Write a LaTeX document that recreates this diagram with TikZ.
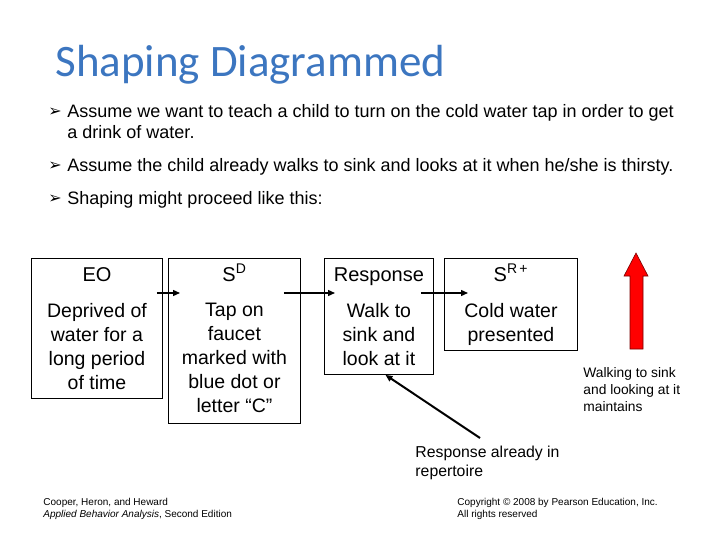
\documentclass[tikz,border=0pt]{standalone}
\usepackage{fontspec}
\setmainfont{Liberation Sans}
\newfontfamily\titlefont{Carlito}
\newfontfamily\symfont{DejaVu Sans}
\usetikzlibrary{arrows.meta,calc}
\definecolor{titleblue}{RGB}{60,118,192}
\definecolor{arrowred}{RGB}{255,0,0}
\definecolor{arrowedge}{RGB}{120,0,0}

\begin{document}
\begin{tikzpicture}[x=1pt,y=-1pt,line width=0.9pt,>={Triangle[length=7pt,width=6pt]},
  box/.style={draw,line width=0.9pt,anchor=north west,inner sep=0pt},
  hdr/.style={anchor=base,inner sep=0pt,font=\fontsize{20}{24}\selectfont},
  body/.style={anchor=north,inner sep=0pt,align=center,font=\fontsize{19.5}{24}\selectfont},
  bullet/.style={anchor=north west,inner sep=0pt,align=left,font=\fontsize{18}{21}\selectfont},
  tick/.style={anchor=base west,inner sep=0pt,font=\symfont\fontsize{16}{16}\selectfont},
  note/.style={anchor=north west,inner sep=0pt,align=left},
  link/.style={->,line width=1.4pt}]
\useasboundingbox (0,0) rectangle (720,540);
% 标题
\node[anchor=base west,inner sep=0pt,text=titleblue,font=\titlefont\fontsize{45}{48}\selectfont] (title) at (55,77) {Shaping Diagrammed};
% 要点
\node[tick] (m1) at (48,117) {➢};
\node[bullet] (b1) at (67,104) {Assume we want to teach a child to turn on the cold water tap in order to get\\a drink of water.};
\node[tick] (m2) at (48,171) {➢};
\node[bullet] (b2) at (67,158) {Assume the child already walks to sink and looks at it when he/she is thirsty.};
\node[tick] (m3) at (48,204) {➢};
\node[bullet] (b3) at (67,191) {Shaping might proceed like this:};
% 四个方框
\node[box,minimum width=131pt,minimum height=140pt] (eo) at (31,258) {};
\node[box,minimum width=132pt,minimum height=165pt] (sd) at (168,258) {};
\node[box,minimum width=109pt,minimum height=116pt] (resp) at (324,258) {};
\node[box,minimum width=133pt,minimum height=92pt] (srp) at (444,258) {};
% 方框标题
\node[hdr] (eoh) at ($(eo.north)+(0,23)$) {EO};
\node[hdr] (sdh) at ($(sd.north)+(0,23)$) {S\textsuperscript{D}};
\node[hdr] (resph) at ($(resp.north)+(0,23)$) {Response};
\node[hdr] (srph) at ($(srp.north)+(0,23)$) {S\textsuperscript{R\,+}};
% 方框内容
\node[body] (eob) at ($(eo.north)+(0,44.6)$) {Deprived of\\water for a\\long period\\of time};
\node[body] (sdb) at ($(sd.north)+(0,44.6)$) {Tap on\\faucet\\marked with\\blue dot or\\letter “C”};
\node[body] (respb) at ($(resp.north)+(0,44.6)$) {Walk to\\sink and\\look at it};
\node[body] (srpb) at ($(srp.north)+(0,44.6)$) {Cold water\\presented};
% 箭头
\draw[link] ($(eo.north east)+(-6,35)$) -- ($(sd.north west)+(12,35)$);
\draw[link] ($(sd.north east)+(-17,35)$) -- ($(resp.north west)+(11,35)$);
\draw[link] ($(resp.north east)+(-13,35)$) -- ($(srp.north west)+(24,35)$);
% 红色箭头
\draw[fill=arrowred,draw=arrowedge,line width=0.6pt] (630,349) -- (630,276) -- (624,276) -- (636,253) -- (648,276) -- (643,276) -- (643,349) -- cycle;
\node[note,font=\fontsize{13.8}{17}\selectfont] (maint) at (583,367) {Walking to sink\\and looking at it\\maintains};
% 已有反应
\node[note,font=\fontsize{15.8}{19}\selectfont] (rep) at (415,445.2) {Response already in\\repertoire};
\coordinate (repend) at (480,438);
\draw[->,line width=2pt] (repend) -- ($(resp.south)+(6.5,0)$);
% 页脚
\node[note,font=\fontsize{10}{12}\selectfont] (cite) at (43,498) {Cooper, Heron, and Heward\\\textit{Applied Behavior Analysis}, Second Edition};
\node[note,font=\fontsize{10}{12}\selectfont] (copy) at (457,498) {Copyright © 2008 by Pearson Education, Inc.\\All rights reserved};
\end{tikzpicture}
\end{document}
